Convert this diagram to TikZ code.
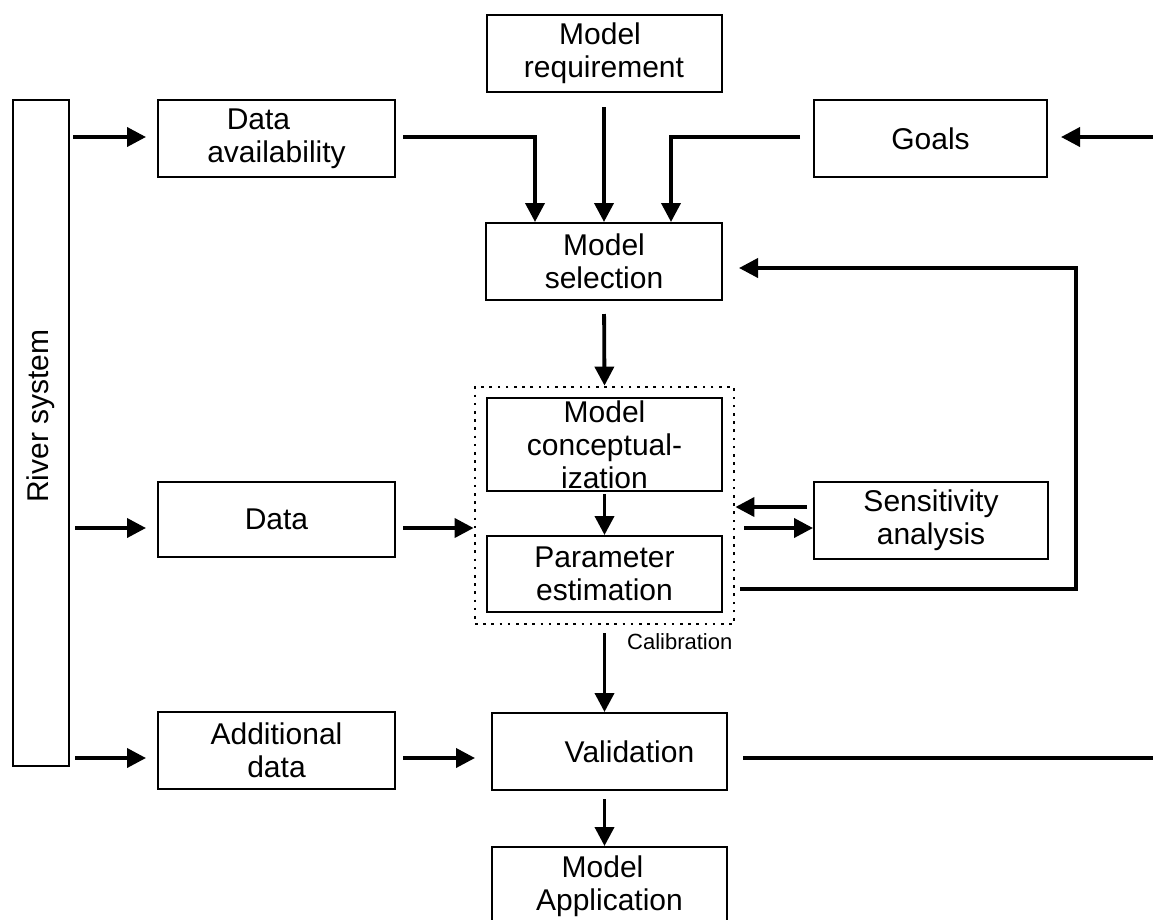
\documentclass[tikz,border=0pt]{standalone}
\usepackage{fontspec}
\setmainfont{Liberation Sans}
\usetikzlibrary{arrows.meta,calc}
\begin{document}
\begin{tikzpicture}[x=1pt,y=-1pt,
  txt/.style={font=\fontsize{30}{33}\selectfont, align=center},
  box/.style={txt, draw, line width=2pt, inner sep=0pt},
  calibbox/.style={draw, line width=2.8pt, dash pattern=on 2.6pt off 5.6pt},
  arr/.style={line width=3.8pt, -{Triangle[length=19pt,width=19pt]}},
  ln/.style={line width=3.8pt}]
\useasboundingbox (0,0) rectangle (1153,919);
\fill[white] (0,0) rectangle (1153,919);

% boxes
\node[box, minimum width=56pt, minimum height=666pt] (river) at (41,433) {};
\node[txt, rotate=90] (rtext) at (41,416) {River system};
\node[box, minimum width=237pt, minimum height=77pt] (da) at (276.5,138.5) {Data\hspace*{36pt}\\availability};
\node[box, minimum width=235pt, minimum height=77pt] (mr) at (604,53.5) {Model\hspace*{8pt}\\requirement};
\node[box, minimum width=233pt, minimum height=77pt] (goals) at (930.5,138.5) {Goals};
\node[box, minimum width=236pt, minimum height=77pt] (ms) at (604,261.5) {Model\\selection};
\node[calibbox, minimum width=259pt, minimum height=237pt] (calib) at (604.5,505.5) {};
\node[box, minimum width=235pt, minimum height=93pt] (mc) at (604.5,444.5) {Model\\conceptual-\\ization};
\node[box, minimum width=235pt, minimum height=76pt] (pe) at (604.5,574) {Parameter\\estimation};
\node[box, minimum width=234pt, minimum height=77pt] (sens) at (931,520.5) {Sensitivity\\analysis};
\node[box, minimum width=237pt, minimum height=75pt] (data) at (276.5,519.5) {Data};
\node[box, minimum width=237pt, minimum height=77pt] (add) at (276.5,750.5) {Additional\\data};
\node[box, minimum width=235pt, minimum height=77pt] (val) at (609.5,751.5) {\hspace*{40pt}Validation};
\node[box, minimum width=235pt, minimum height=78pt] (mapp) at (609.5,886) {Model\hspace*{14pt}\\Application};
\node[font=\fontsize{22}{25}\selectfont, anchor=north west, inner sep=0pt] (calibl) at (627,633) {Calibration};

% helper coordinates
\coordinate (rowA) at (0,137);
\coordinate (rowB) at (0,528);
\coordinate (rowC) at (0,758);
\coordinate (s1) at (0,507);
\coordinate (fbc) at (1076,589);
\coordinate (fbt) at (0,268);
\coordinate (rin) at (1153,137);
\coordinate (rout) at (1153,758);
\coordinate (xa) at (535,0);
\coordinate (xg) at (671,0);

% connectors
\draw[arr, shorten <=3pt, shorten >=11pt] (river.east |- rowA) -- (da.west |- rowA);
\draw[arr, shorten <=7pt] (da.east |- rowA) -| (xa |- ms.north);
\draw[arr, shorten <=14pt] (mr.south) -- (ms.north);
\draw[arr, shorten <=13pt] (goals.west |- rowA) -| (xg |- ms.north);
\draw[arr, shorten >=13pt] (rin) -- (goals.east |- rin);
\draw[arr, shorten <=13pt] (ms.south) -- (calib.north);
\draw[arr, shorten <=2pt] (mc.south) -- (pe.north);
\draw[arr, shorten <=5pt, shorten >=11pt] (river.east |- rowB) -- (data.west |- rowB);
\draw[arr, shorten <=7pt] (data.east |- rowB) -- (calib.west |- rowB);
\draw[arr, shorten <=6pt] (sens.west |- s1) -- (calib.east |- s1);
\draw[arr, shorten <=9pt] (calib.east |- rowB) -- (sens.west |- rowB);
\draw[arr, shorten <=5pt, shorten >=16pt] (calib.east |- fbc) -- (fbc) |- (ms.east |- fbt);
\draw[arr, shorten <=8pt] (calib.south) -- (calib.south |- val.north);
\draw[arr, shorten <=5pt, shorten >=11pt] (river.east |- rowC) -- (add.west |- rowC);
\draw[arr, shorten <=7pt, shorten >=16pt] (add.east |- rowC) -- (val.west |- rowC);
\draw[ln, shorten <=15pt] (val.east |- rowC) -- (rout);
\draw[arr, shorten <=8pt] (calib.south |- val.south) -- (calib.south |- mapp.north);
\end{tikzpicture}
\end{document}
